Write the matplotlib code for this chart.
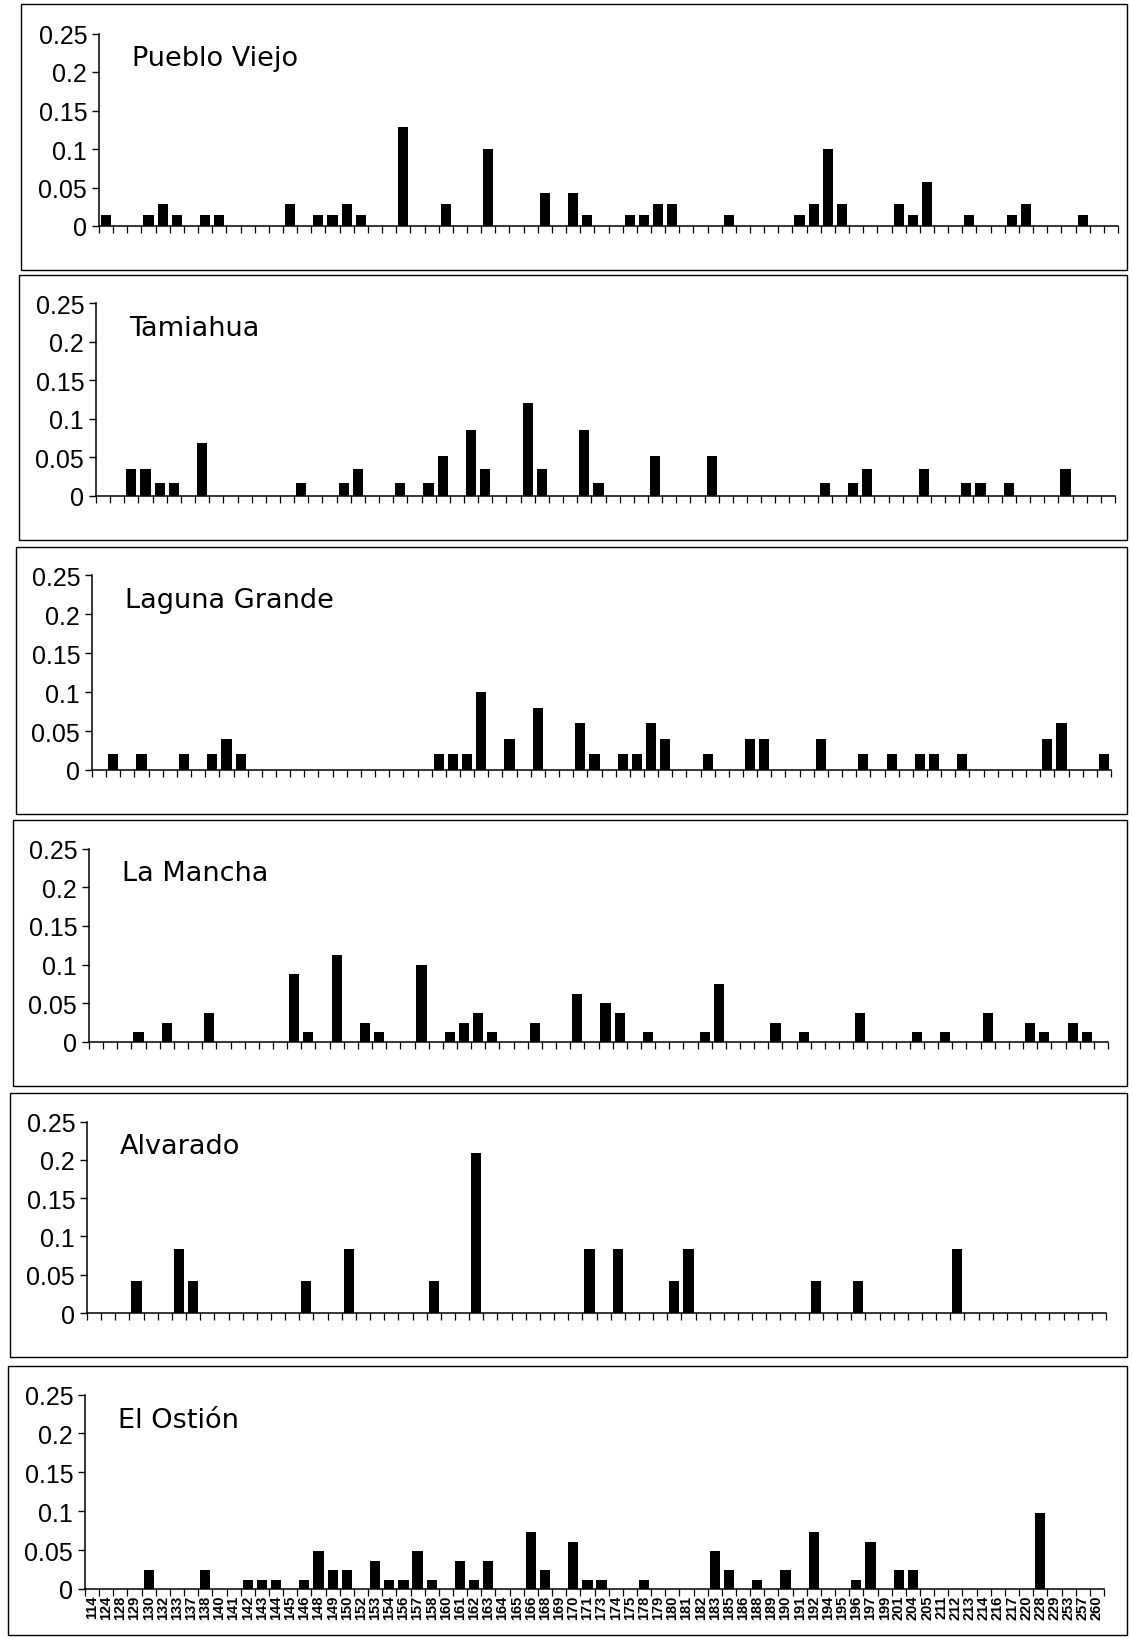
import matplotlib
matplotlib.use("Agg")
import matplotlib.pyplot as plt
from matplotlib.patches import Rectangle
import numpy as np

# ---------------- data ----------------
alleles = ["114", "124", "128", "129", "130", "132", "133", "137", "138", "140",
           "141", "142", "143", "144", "145", "146", "148", "149", "150", "152",
           "153", "154", "156", "157", "158", "160", "161", "162", "163", "164",
           "165", "166", "168", "169", "170", "171", "173", "174", "175", "178",
           "179", "180", "181", "182", "183", "185", "186", "188", "189", "190",
           "191", "192", "194", "195", "196", "197", "199", "201", "204", "205",
           "211", "212", "213", "214", "216", "217", "220", "228", "229", "253",
           "257", "260"]

site_names = ["Pueblo Viejo", "Tamiahua", "Laguna Grande", "La Mancha",
              "Alvarado", "El Ostión"]

pv_alleles = ["114", "129", "130", "132", "137", "138", "144", "146", "148", "149",
              "150", "154", "158", "162", "166", "169", "170", "174", "175", "178",
              "179", "183", "190", "191", "192", "194", "199", "201", "204", "212",
              "216", "217", "253"]
pv_freq = [0.0143, 0.0143, 0.0286, 0.0143, 0.0143, 0.0143, 0.0286, 0.0143, 0.0143, 0.0286,
           0.0143, 0.1286, 0.0286, 0.1000, 0.0429, 0.0429, 0.0143, 0.0143, 0.0143, 0.0286,
           0.0286, 0.0143, 0.0143, 0.0286, 0.1000, 0.0286, 0.0286, 0.0143, 0.0571, 0.0143,
           0.0143, 0.0286, 0.0143]

ta_alleles = ["128", "129", "130", "132", "137", "145", "149", "150", "154", "157",
              "158", "161", "162", "165", "166", "170", "171", "178", "182", "192",
              "195", "196", "204", "212", "213", "216", "229"]
ta_freq = [0.0345, 0.0345, 0.0172, 0.0172, 0.0690, 0.0172, 0.0172, 0.0345, 0.0172, 0.0172,
           0.0517, 0.0862, 0.0345, 0.1207, 0.0345, 0.0862, 0.0172, 0.0517, 0.0517, 0.0172,
           0.0172, 0.0345, 0.0345, 0.0172, 0.0172, 0.0172, 0.0345]

lg_alleles = ["124", "129", "133", "138", "140", "141", "158", "160", "161", "162",
              "164", "166", "170", "171", "174", "175", "178", "179", "182", "186",
              "188", "192", "196", "199", "204", "205", "212", "228", "229", "260"]
lg_freq = [0.02, 0.02, 0.02, 0.02, 0.04, 0.02, 0.02, 0.02, 0.02, 0.10,
           0.04, 0.08, 0.06, 0.02, 0.02, 0.02, 0.06, 0.04, 0.02, 0.04,
           0.04, 0.04, 0.02, 0.02, 0.02, 0.02, 0.02, 0.04, 0.06, 0.02]

lm_alleles = ["129", "132", "138", "145", "146", "149", "152", "153", "157", "160",
              "161", "162", "163", "166", "170", "173", "174", "178", "182", "183",
              "189", "191", "196", "204", "211", "214", "220", "228", "253", "257"]
lm_freq = [0.0125, 0.0250, 0.0375, 0.0875, 0.0125, 0.1125, 0.0250, 0.0125, 0.1000, 0.0125,
           0.0250, 0.0375, 0.0125, 0.0250, 0.0625, 0.0500, 0.0375, 0.0125, 0.0125, 0.0750,
           0.0250, 0.0125, 0.0375, 0.0125, 0.0125, 0.0375, 0.0250, 0.0125, 0.0250, 0.0125]

al_alleles = ["129", "133", "137", "146", "150", "158", "162", "171", "174", "180",
              "181", "192", "196", "212"]
al_freq = [0.0417, 0.0833, 0.0417, 0.0417, 0.0833, 0.0417, 0.2083, 0.0833, 0.0833, 0.0417,
           0.0833, 0.0417, 0.0417, 0.0833]

eo_alleles = ["130", "138", "142", "143", "144", "146", "148", "149", "150", "153",
              "154", "156", "157", "158", "161", "162", "163", "166", "168", "170",
              "171", "173", "178", "183", "185", "188", "190", "192", "196", "197",
              "201", "204", "228"]
eo_freq = [0.0244, 0.0244, 0.0122, 0.0122, 0.0122, 0.0122, 0.0488, 0.0244, 0.0244, 0.0366,
           0.0122, 0.0122, 0.0488, 0.0122, 0.0366, 0.0122, 0.0366, 0.0732, 0.0244, 0.0610,
           0.0122, 0.0122, 0.0122, 0.0488, 0.0244, 0.0122, 0.0244, 0.0732, 0.0122, 0.0610,
           0.0244, 0.0244, 0.0976]

y_ticks = [0, 0.05, 0.1, 0.15, 0.2, 0.25]
y_ticklabels = ["0", "0.05", "0.1", "0.15", "0.2", "0.25"]

site_data = [(pv_alleles, pv_freq), (ta_alleles, ta_freq), (lg_alleles, lg_freq),
             (lm_alleles, lm_freq), (al_alleles, al_freq), (eo_alleles, eo_freq)]

# ---------------- layout ----------------
W, H = 1132, 1640
fig = plt.figure(figsize=(W / 100, H / 100), dpi=100)

top_px = [34.5, 304.4, 576.4, 849.5, 1122.5, 1395.6]
zero_px = [227, 497, 771, 1043, 1314, 1590]
left_px = [99, 96, 92, 89, 87, 85]
axis_w = 1019
box_top = [5, 276, 548, 821, 1094, 1367]
box_bot = [271, 541, 815, 1087, 1358, 1636]
box_left = [21, 19, 16, 13, 10, 8]
box_right = 1127

xpos = np.arange(len(alleles))
idx = {a: i for i, a in enumerate(alleles)}

for k, (name, (al, fr)) in enumerate(zip(site_names, site_data)):
    # frame around the panel
    fig.add_artist(Rectangle((box_left[k] / W, 1 - box_bot[k] / H),
                             (box_right - box_left[k]) / W,
                             (box_bot[k] - box_top[k]) / H,
                             transform=fig.transFigure, fill=False,
                             lw=1.0, ec="black"))
    ax = fig.add_axes([left_px[k] / W, 1 - zero_px[k] / H,
                       axis_w / W, (zero_px[k] - top_px[k]) / H])
    vals = np.zeros(len(alleles))
    for a, f in zip(al, fr):
        vals[idx[a]] = f
    ax.bar(xpos, vals, width=0.72, color="black", linewidth=0)
    ax.set_xlim(-0.5, len(alleles) - 0.5)
    ax.set_ylim(0, 0.25)
    ax.set_yticks(y_ticks)
    ax.set_yticklabels(y_ticklabels, fontsize=18, family="Liberation Sans")
    ax.tick_params(axis="y", length=5, width=1, pad=3.5)
    for s in ["top", "right"]:
        ax.spines[s].set_visible(False)
    for s in ["left", "bottom"]:
        ax.spines[s].set_linewidth(1.1)
    ax.set_xticks(np.arange(-0.5, len(alleles)), minor=True)
    ax.tick_params(axis="x", which="minor", length=5, width=0.9)
    ax.set_xticks(xpos)
    ax.tick_params(axis="x", which="major", length=0, pad=4)
    if k == len(site_names) - 1:
        ax.set_xticklabels(alleles, rotation=90, fontsize=10.5,
                           fontweight="bold", family="Liberation Sans")
    else:
        ax.set_xticklabels([])
    ax.text(33 / axis_w, 1 - 25 / (zero_px[k] - top_px[k]), name,
            transform=ax.transAxes, fontsize=19.5, va="center", ha="left",
            family="DejaVu Sans")

fig.savefig("out.png", dpi=100, facecolor="white")
